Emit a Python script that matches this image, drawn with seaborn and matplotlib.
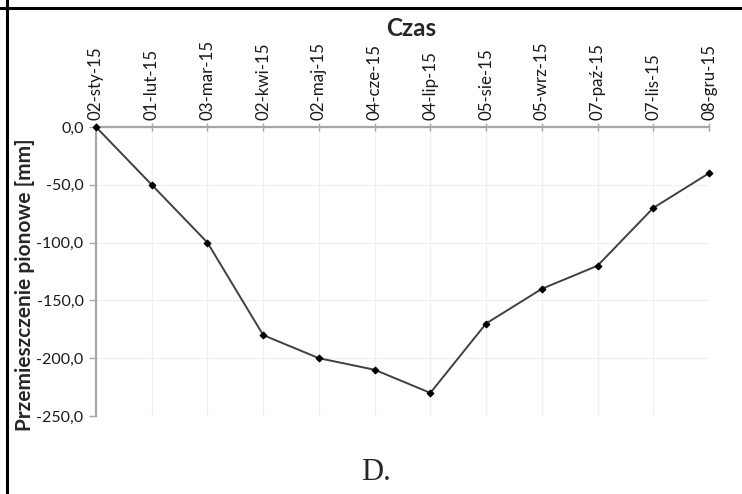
import matplotlib
matplotlib.use("Agg")
import matplotlib.pyplot as plt
import seaborn as sns
import pandas as pd
from matplotlib.lines import Line2D

dates = ["02-sty-15", "01-lut-15", "03-mar-15", "02-kwi-15", "02-maj-15", "04-cze-15",
         "04-lip-15", "05-sie-15", "05-wrz-15", "07-paź-15", "07-lis-15", "08-gru-15"]
values = [0, -50, -100, -180, -200, -210, -230, -170, -140, -120, -70, -40]
y_ticks = [0, -50, -100, -150, -200, -250]

sns.set_theme(style="white")
plt.rcParams["font.family"] = ["Lato", "DejaVu Sans"]

df = pd.DataFrame({"pos": range(len(dates)), "val": values})

fig = plt.figure(figsize=(7.42, 4.94), dpi=100)
ax = fig.add_axes([96/742, 1-416/494, (709-96)/742, (416-127)/494])

sns.lineplot(data=df, x="pos", y="val", ax=ax, color="#404040", linewidth=1.4,
             marker="D", markersize=3.5, markerfacecolor="black", markeredgecolor="black",
             zorder=5, clip_on=False)

ax.set_xlim(0, len(dates) - 1)
ax.set_ylim(-250, 0)
ax.set_xticks(range(len(dates)))
ax.set_xticklabels(dates, rotation=90, fontsize=12.2, color="#1a1a1a")
ax.set_yticks(y_ticks)
ax.set_yticklabels([f"{v:.1f}".replace(".", ",") for v in y_ticks], fontsize=11.5, color="#1a1a1a")
ax.xaxis.tick_top()
ax.xaxis.set_label_position("top")
ax.set_xlabel("")
ax.set_ylabel("")

for s in ["right", "bottom"]:
    ax.spines[s].set_visible(False)
for s in ["top", "left"]:
    ax.spines[s].set_color("#a6a6a6")
    ax.spines[s].set_linewidth(1.6)

ax.tick_params(axis="x", which="major", direction="inout", length=6, width=1.0,
               color="#a6a6a6", pad=2, top=True, bottom=False)
ax.tick_params(axis="y", which="major", direction="out", length=5, width=1.0,
               color="#a6a6a6", pad=4, left=True)

ax.grid(True, color="#f0f0f0", linewidth=0.9)
ax.set_axisbelow(True)

fig.text(411/742, 1-29/494, "Czas", ha="center", va="center", fontsize=17.5, fontweight="bold")
fig.text(25/742, 1-285/494, "Przemieszczenie pionowe [mm]", ha="center", va="center",
         rotation=90, fontsize=15, fontweight="bold")
fig.text(376/742, 1-472/494, "D.", ha="center", va="center", fontsize=22,
         family=["Liberation Serif", "DejaVu Serif"])

fig.add_artist(Line2D([7/742, 7/742], [0, 1], transform=fig.transFigure, color="black", linewidth=2.2))
fig.add_artist(Line2D([0, 1], [1-8.5/494, 1-8.5/494], transform=fig.transFigure, color="black", linewidth=2.2))

fig.savefig("out.png", dpi=100)
